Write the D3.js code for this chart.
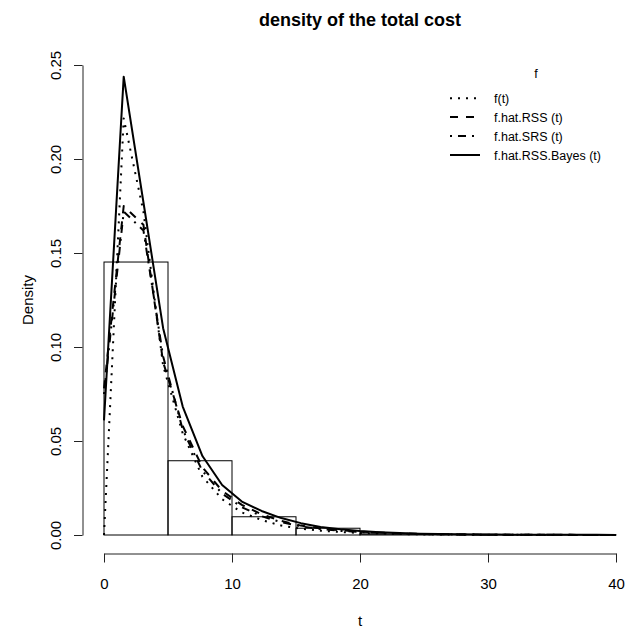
<!DOCTYPE html>
<html><head><meta charset="utf-8">
<script src="https://cdn.jsdelivr.net/npm/d3@7"></script>
<style>html,body{margin:0;padding:0;background:#fff;}svg{display:block;}</style>
</head><body>
<svg id="chart" width="631" height="632"></svg>
<script>
// ---- data ----
const binEdges = [0, 5, 10, 15, 20, 25, 30, 35, 40];
const histDensity = [0.1452, 0.0395, 0.0097, 0.0036, 0.0006, 0.0003, 0.0001, 0.0001];
const tVals = [0, 1.54, 3.08, 4.62, 6.15, 7.69, 9.23, 10.77, 12.31, 13.85, 15.38, 16.92, 18.46, 20,
  21.54, 23.08, 24.62, 26.15, 27.69, 29.23, 30.77, 32.31, 33.85, 35.38, 36.92, 38.46, 40];
const fTrue = [0, 0.2216, 0.172, 0.090, 0.054, 0.031, 0.019, 0.0120, 0.0080, 0.0050, 0.0034, 0.0023, 0.0016, 0.0011,
  0.0008, 0.0005, 0.0004, 0.0003, 0.0002, 0.00015, 0.0001, 0.0001, 0.00005, 0.00005, 0.00003, 0.00002, 0.00001];
const fRSS = [0.078, 0.175, 0.165, 0.092, 0.058, 0.036, 0.0235, 0.0160, 0.0110, 0.0075, 0.0050, 0.0035, 0.0025, 0.0018,
  0.0013, 0.0009, 0.0006, 0.0004, 0.0003, 0.0002, 0.00015, 0.0001, 0.0001, 0.00008, 0.00006, 0.00004, 0.00003];
const fSRS = [0.075, 0.172, 0.162, 0.095, 0.056, 0.034, 0.0220, 0.0148, 0.0100, 0.0068, 0.0046, 0.0032, 0.0022, 0.0016,
  0.0011, 0.0008, 0.0005, 0.0004, 0.0003, 0.0002, 0.00015, 0.0001, 0.0001, 0.00008, 0.00006, 0.00004, 0.00003];
const fBayes = [0.061, 0.2438, 0.177, 0.110, 0.0683, 0.042, 0.0266, 0.0178, 0.0128, 0.0090, 0.0063, 0.0043, 0.0030, 0.0021,
  0.0015, 0.0010, 0.0007, 0.0005, 0.0004, 0.0003, 0.0002, 0.00015, 0.0001, 0.0001, 0.0001, 0.00008, 0.00006];
const xTicks = [0, 10, 20, 30, 40];
const yTicks = [0, 0.05, 0.10, 0.15, 0.20, 0.25];
const seriesNames = ["f(t)", "f.hat.RSS (t)", "f.hat.SRS (t)", "f.hat.RSS.Bayes (t)"];
const titleText = "density of the total cost";

// ---- drawing ----
const FONT = "'Liberation Sans', Arial, Helvetica, sans-serif";
const svg = d3.select("#chart").style("font-family", FONT);
const x = d3.scaleLinear().domain([0, 40]).range([104, 616]);
const y = d3.scaleLinear().domain([0, 0.25]).range([535, 65]);

// histogram
const bins = histDensity.map((d, i) => ({x0: binEdges[i], x1: binEdges[i + 1], d}));
svg.append("g").selectAll("rect").data(bins).join("rect")
  .attr("x", b => x(b.x0)).attr("y", b => y(b.d))
  .attr("width", b => x(b.x1) - x(b.x0)).attr("height", b => y(0) - y(b.d))
  .attr("fill", "none").attr("stroke", "#000").attr("stroke-width", 1);

// curves
const styles = [
  {vals: fTrue, dash: "2 6", w: 2},
  {vals: fRSS, dash: "8 8", w: 2},
  {vals: fSRS, dash: "2 6 8 6", w: 2},
  {vals: fBayes, dash: null, w: 2}
];
const line = d3.line().x(d => x(d[0])).y(d => y(d[1]));
styles.forEach(s => {
  svg.append("path").datum(tVals.map((t, i) => [t, s.vals[i]]))
    .attr("d", line).attr("fill", "none").attr("stroke", "#000")
    .attr("stroke-width", s.w).attr("stroke-dasharray", s.dash)
    .attr("stroke-linecap", "butt").attr("stroke-linejoin", "round");
});

// x axis
const gx = svg.append("g").attr("transform", "translate(0,553.5)")
  .call(d3.axisBottom(x).tickValues(xTicks).tickSize(9).tickSizeOuter(0).tickFormat(d3.format("d")));
gx.selectAll("text").attr("y", 35.5).attr("dy", null).style("font-size", "15px").style("font-family", FONT).attr("fill", "#000");
gx.selectAll("line,path").attr("stroke", "#222");

// y axis
const gy = svg.append("g").attr("transform", "translate(82.5,0)")
  .call(d3.axisLeft(y).tickValues(yTicks).tickSize(8.5).tickSizeOuter(0).tickFormat(d3.format(".2f")));
gy.selectAll("text").attr("x", null).attr("dy", null).attr("text-anchor", "middle")
  .attr("transform", "translate(-22,0) rotate(-90)")
  .style("font-size", "15px").style("font-family", FONT).attr("fill", "#000");
gy.selectAll("line,path").attr("stroke", "#222");

// titles
svg.append("text").attr("x", 360).attr("y", 26).attr("text-anchor", "middle")
  .style("font-size", "18px").style("font-weight", "bold").text(titleText);
svg.append("text").attr("x", 360).attr("y", 626).attr("text-anchor", "middle")
  .style("font-size", "15px").text("t");
svg.append("text").attr("transform", "translate(32.5,300) rotate(-90)").attr("text-anchor", "middle")
  .style("font-size", "15px").text("Density");

// legend
const lg = svg.append("g");
lg.append("text").attr("x", 536).attr("y", 78).attr("text-anchor", "middle")
  .style("font-size", "12.5px").text("f");
const rowY = [98.3, 117, 136, 155];
styles.forEach((s, i) => {
  lg.append("line").attr("x1", 450).attr("x2", 480).attr("y1", rowY[i]).attr("y2", rowY[i])
    .attr("stroke", "#000").attr("stroke-width", s.w).attr("stroke-dasharray", s.dash);
  lg.append("text").attr("x", 494).attr("y", rowY[i] + 4.5)
    .style("font-size", "12.5px").text(seriesNames[i]);
});
</script>
</body></html>
